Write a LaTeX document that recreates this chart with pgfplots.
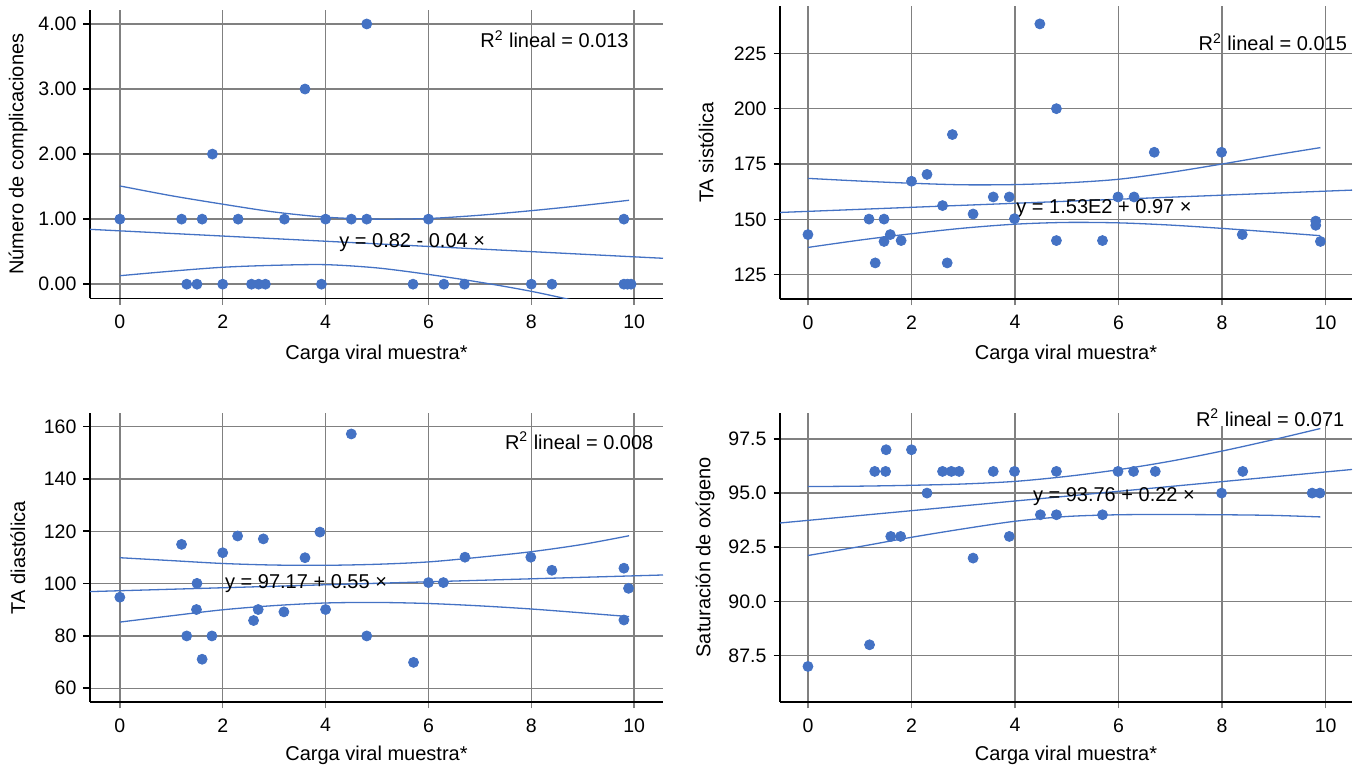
\documentclass[border=0pt]{standalone}
\usepackage{fontspec}
\setmainfont{Liberation Sans}
\usepackage{pgfplots}
\pgfplotsset{compat=1.18}
\definecolor{dotblue}{RGB}{68,114,196}
\definecolor{gridgray}{RGB}{128,128,128}
\tikzset{txt/.style={font=\fontsize{10}{12}\selectfont, inner sep=0pt}}
\pgfplotsset{
 panel/.style={
  scale only axis, axis lines*=left, tick align=outside, major tick length=3.25pt,
  grid=major, grid style={draw=gridgray, line width=0.7pt},
  axis line style={line width=0.8pt, black},
  xtick style={draw=gridgray, line width=0.7pt},
  ytick style={draw=black, line width=0.8pt},
  xmin=-0.58, xmax=10.56, xtick={0,2,4,6,8,10},
  tick label style={font=\fontsize{9.75}{11}\selectfont},
  xticklabel style={yshift=-1.5pt},
  label style={font=\fontsize{10}{12}\selectfont},
  /pgf/number format/assume math mode=true,
  anchor=south west,
 },
 pts/.style={only marks, mark=*, mark size=2.5pt, color=dotblue},
 fitl/.style={no marks, color=dotblue, line width=0.65pt},
 band/.style={no marks, smooth, color=dotblue, line width=0.65pt},
}
\begin{document}
\begin{tikzpicture}
\useasboundingbox (0,0) rectangle (683.5pt,387.5pt);
% Panel 1
\begin{axis}[panel, at={(45pt,238.25pt)}, width=286.5pt, height=144.25pt,
  ymin=-0.22, ymax=4.215, ytick={0,1,2,3,4},
  yticklabel style={/pgf/number format/.cd,fixed,fixed zerofill,precision=2},
  xlabel={Carga viral muestra*}, ylabel={Número de complicaciones},
  xlabel style={at={(axis description cs:0.5,-0.1924)}, anchor=center},
  ylabel style={at={(axis description cs:-0.1257,0.5)}, anchor=center}]
\addplot[fitl] coordinates {(-0.58,0.843) (10.56,0.398)};
\addplot[band] coordinates {(0,1.51) (1,1.36) (2,1.23) (3,1.11) (4,1.03) (5,1.00) (6,1.01) (7,1.06) (8,1.13) (9,1.21) (9.9,1.29)};
\addplot[band] coordinates {(0,0.13) (1,0.20) (2,0.26) (3,0.29) (4,0.30) (5,0.25) (6,0.15) (7,0.03) (8,-0.11) (9,-0.28) (9.9,-0.44)};
\addplot[pts] coordinates {(0,1) (1.2,1) (1.6,1) (2.3,1) (3.2,1) (4.0,1) (4.5,1) (4.8,1) (6.0,1) (9.8,1)
 (1.3,0) (1.5,0) (2.0,0) (2.56,0) (2.7,0) (2.83,0) (3.92,0) (5.7,0) (6.3,0) (6.7,0) (8.0,0) (8.4,0) (9.8,0) (9.87,0) (9.94,0)
 (1.8,2) (3.6,3) (4.8,4)};
\node[txt, anchor=west] at (axis cs:4.26,0.645) {y = 0.82 - 0.04 ×};
\node[txt, anchor=east] at (axis cs:9.90,3.765) {R\textsuperscript{2} lineal = 0.013};
\end{axis}
% Panel 2
\begin{axis}[panel, at={(390pt,238pt)}, width=286pt, height=146.5pt,
  xmin=-0.54, xmax=10.51, ymin=114, ymax=246.4, ytick={125,150,175,200,225},
  xlabel={Carga viral muestra*}, ylabel={TA sistólica},
  xlabel style={at={(axis description cs:0.5,-0.188)}, anchor=center},
  ylabel style={at={(axis description cs:-0.129,0.5)}, anchor=center}]
\addplot[fitl] coordinates {(-0.54,153.1) (10.51,163.2)};
\addplot[band] coordinates {(0,168.5) (1,167.3) (2,166.3) (3,165.6) (4,165.7) (5,166.5) (6,168.1) (7,171.2) (8,175.0) (9,179.0) (9.9,182.4)};
\addplot[band] coordinates {(0,137.3) (1,140.6) (2,143.5) (3,146.0) (4,147.8) (5,148.6) (6,148.4) (7,147.4) (8,145.9) (9,144.2) (9.9,142.6)};
\addplot[pts] coordinates {(0,143.1) (1.18,150.1) (1.3,130.3) (1.47,150.1) (1.47,140) (1.59,143.1) (1.8,140.4) (2.0,167.2) (2.3,170.3) (2.6,156.2) (2.69,130.3) (2.79,188.3) (3.19,152.4) (3.58,160.1) (3.89,160.1) (3.99,150.3) (4.48,238.3) (4.8,200) (4.8,140.4) (5.69,140.4) (5.99,160.1) (6.3,160.1) (6.69,180.3) (7.99,180.3) (8.39,143.1) (9.81,149.2) (9.81,147.3) (9.9,140)};
\node[txt, anchor=west] at (axis cs:4.02,154.7) {y = 1.53E2 + 0.97 ×};
\node[txt, anchor=east] at (axis cs:10.42,230.2) {R\textsuperscript{2} lineal = 0.015};
\end{axis}
% Panel 3
\begin{axis}[panel, at={(45pt,36.5pt)}, width=286.5pt, height=144.35pt,
  ymin=54.76, ymax=165.1, ytick={60,80,100,120,140,160},
  xlabel={Carga viral muestra*}, ylabel={TA diastólica},
  xlabel style={at={(axis description cs:0.5,-0.186)}, anchor=center},
  ylabel style={at={(axis description cs:-0.1257,0.5)}, anchor=center}]
\addplot[fitl] coordinates {(-0.58,96.95) (10.56,103.3)};
\addplot[band] coordinates {(0,109.9) (1,108.8) (2,107.7) (3,107.1) (4,107.0) (5,107.4) (6,108.3) (7,110.1) (8,112.2) (9,115.0) (9.9,118.3)};
\addplot[band] coordinates {(0,85.3) (1,87.7) (2,90.0) (3,91.6) (4,92.6) (5,92.8) (6,92.4) (7,91.5) (8,90.3) (9,88.8) (9.9,87.4)};
\addplot[pts] coordinates {(0,94.8) (1.2,115.0) (1.3,80) (1.5,100.1) (1.49,90.1) (1.6,71.1) (1.79,80) (2.0,111.8) (2.29,118.2) (2.6,85.9) (2.69,90.1) (2.79,117.1) (3.19,89.2) (3.6,109.9) (3.89,119.7) (4.0,90.1) (4.5,157.2) (4.8,80) (5.71,69.9) (6.0,100.4) (6.29,100.4) (6.71,110.1) (7.99,110.1) (8.4,105.1) (9.8,105.9) (9.89,98.2) (9.8,86.1)};
\node[txt, anchor=west] at (axis cs:2.04,100.1) {y = 97.17 + 0.55 ×};
\node[txt, anchor=east] at (axis cs:10.38,154.65) {R\textsuperscript{2} lineal = 0.008};
\end{axis}
% Panel 4
\begin{axis}[panel, at={(390pt,36.5pt)}, width=286pt, height=144.65pt, clip=false,
  xmin=-0.54, xmax=10.51, ymin=85.36, ymax=98.71, ytick={87.5,90,92.5,95,97.5},
  yticklabel style={/pgf/number format/.cd,fixed,fixed zerofill,precision=1},
  xlabel={Carga viral muestra*}, ylabel={Saturación de oxígeno},
  xlabel style={at={(axis description cs:0.5,-0.1856)}, anchor=center},
  ylabel style={at={(axis description cs:-0.131,0.5)}, anchor=center}]
\addplot[fitl] coordinates {(-0.54,93.62) (10.51,96.09)};
\addplot[band] coordinates {(0,95.30) (1,95.32) (2,95.36) (3,95.42) (4,95.54) (5,95.77) (6,96.08) (7,96.47) (8,96.94) (9,97.47) (9.9,97.98)};
\addplot[band] coordinates {(0,92.12) (1,92.53) (2,92.96) (3,93.35) (4,93.70) (5,93.92) (6,94.00) (7,94.01) (8,94.00) (9,93.97) (9.9,93.90)};
\addplot[pts] coordinates {(0,87.0) (1.19,88.0) (1.29,96.0) (1.51,97.0) (1.5,96) (1.6,93.0) (1.79,93.0) (2.0,97.0) (2.3,95.0) (2.6,96) (2.77,96) (2.92,96) (3.19,92.0) (3.58,96) (3.89,93) (3.99,96) (4.49,94) (4.8,94) (4.8,96) (5.69,94) (5.99,96) (6.29,96) (6.71,96) (7.99,95) (8.4,96) (9.74,95) (9.89,95)};
\node[txt, anchor=west] at (axis cs:4.34,94.84) {y = 93.76 + 0.22 ×};
\node[txt, anchor=base east, fill=white, text depth=0pt, inner sep=0pt] at (axis cs:10.37,98.09) {R\textsuperscript{2} lineal = 0.071};
\end{axis}
\end{tikzpicture}
\end{document}
